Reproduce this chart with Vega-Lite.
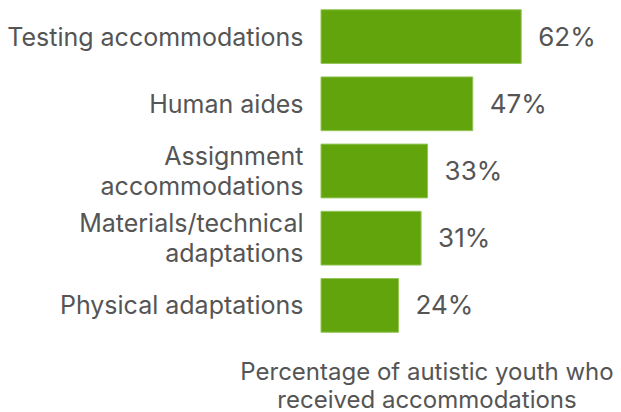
{
  "$schema": "https://vega.github.io/schema/vega-lite/v6.json",
  "autosize": {"type": "none"},
  "width": 300,
  "height": 336,
  "padding": {"left": 321, "top": 3, "right": 0, "bottom": 73},
  "background": "white",
  "config": {"view": {"stroke": null}, "font": "Inter"},
  "data": {"values": [
    {"category": "Testing accommodations", "pct": 0.62},
    {"category": "Human aides", "pct": 0.47},
    {"category": "Assignment|accommodations", "pct": 0.33},
    {"category": "Materials/technical|adaptations", "pct": 0.31},
    {"category": "Physical adaptations", "pct": 0.24}
  ]},
  "encoding": {
    "y": {
      "field": "category", "type": "nominal", "sort": null,
      "scale": {"paddingInner": 0.2, "paddingOuter": 0.1},
      "axis": {
        "title": null, "domain": false, "ticks": false, "labelPadding": 18,
        "labelFontSize": 25, "labelColor": "#555555", "labelLineHeight": 30,
        "labelLimit": 400,
        "labelOffset": {"condition": {"test": "indexof(datum.value, '|') >= 0", "value": -14}, "value": 1},
        "labelExpr": "split(datum.label, '|')"
      }
    },
    "x": {
      "field": "pct", "type": "quantitative",
      "scale": {"domain": [0, 0.929], "nice": false},
      "axis": {
        "labels": false, "ticks": false, "domain": false, "grid": false,
        "title": ["Percentage of autistic youth who", "received accommodations"],
        "titleFontSize": 24, "titleFontWeight": "normal", "titleColor": "#555555",
        "titleLineHeight": 28, "titleX": 105.5, "titleY": 40,
        "titleAnchor": "middle", "titleAlign": "center", "titleBaseline": "alphabetic"
      }
    }
  },
  "layer": [
    {"mark": {"type": "bar", "color": "#62a40b", "stroke": "#94c65a", "strokeWidth": 1}},
    {
      "mark": {"type": "text", "align": "left", "baseline": "middle", "dx": 17, "dy": 1, "fontSize": 26, "color": "#555555"},
      "encoding": {"text": {"field": "pct", "type": "quantitative", "format": ".0%"}}
    }
  ]
}
